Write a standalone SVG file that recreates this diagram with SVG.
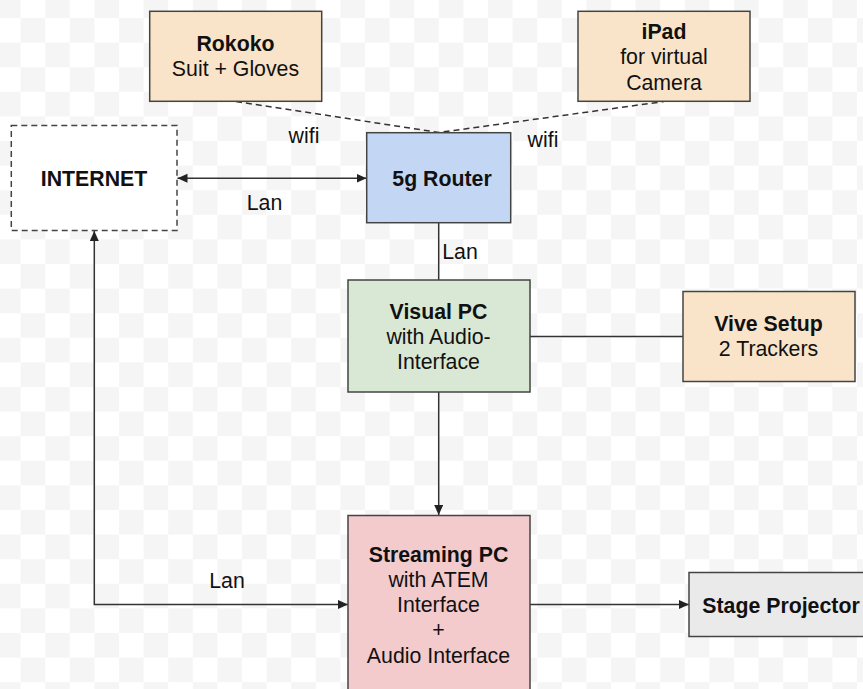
<svg xmlns="http://www.w3.org/2000/svg" width="863" height="689" viewBox="0 0 863 689">
<style>
text{font-family:"Liberation Sans",Arial,sans-serif;font-size:21.3px;fill:#111;text-anchor:middle}
.b{font-weight:bold}
.n{stroke:#444;stroke-width:1.5}
.c{fill:none;stroke:#333;stroke-width:1.5}
.d{stroke-dasharray:6 4}
</style>
<defs>
<pattern id="chk" x="-4" y="-6.6" width="49.2" height="49.2" patternUnits="userSpaceOnUse">
<rect width="49.2" height="49.2" fill="#fff"/>
<rect width="24.6" height="24.6" fill="#f5f5f5"/>
<rect x="24.6" y="24.6" width="24.6" height="24.6" fill="#f5f5f5"/>
</pattern>
<marker id="a" markerUnits="userSpaceOnUse" markerWidth="12" markerHeight="10" refX="10" refY="4.5" orient="auto-start-reverse"><path d="M0 0L10 4.5L0 9Z" fill="#222"/></marker>
</defs>
<rect id="bg" width="863" height="689" fill="url(#chk)"/>
<g id="connectors">
<path class="c d" d="M236 101.500L439 132.500L664 101.500"/>
<path class="c" d="M177.500 178.300H366.500" marker-start="url(#a)" marker-end="url(#a)"/>
<path class="c" d="M438.700 223V280"/>
<path class="c" d="M530 336.500H683"/>
<path class="c" d="M438.700 392V515" marker-end="url(#a)"/>
<path class="c" d="M348 604.500H94.300V231" marker-start="url(#a)" marker-end="url(#a)"/>
<path class="c" d="M530 604.500H689" marker-end="url(#a)"/>
</g>
<g id="rokoko"><rect class="n" x="149.700" y="11.300" width="172" height="90" fill="#f9e4c9"/><text class="b" x="235.500" y="51">Rokoko</text><text x="235.500" y="76">Suit + Gloves</text></g>
<g id="ipad"><rect class="n" x="578" y="11.300" width="172" height="90" fill="#f9e4c9"/><text class="b" x="664" y="39">iPad</text><text x="664" y="64">for virtual</text><text x="664" y="89.500">Camera</text></g>
<g id="internet"><rect class="n d" x="11.300" y="125.500" width="165.700" height="105" fill="#fff"/><text class="b" x="94" y="186">INTERNET</text></g>
<g id="router"><rect class="n" x="366.700" y="132.700" width="144" height="90" fill="#c3d7f5"/><text class="b" x="442" y="186">5g Router</text></g>
<g id="visual"><rect class="n" x="348" y="280" width="182" height="112" fill="#d9e8d4"/><text class="b" x="438.500" y="319">Visual PC</text><text x="438.500" y="344">with Audio-</text><text x="438.500" y="369">Interface</text></g>
<g id="vive"><rect class="n" x="683" y="291.500" width="172" height="90" fill="#f9e4c9"/><text class="b" x="768.500" y="331">Vive Setup</text><text x="768.500" y="356">2 Trackers</text></g>
<g id="streaming"><rect class="n" x="348" y="515.500" width="182" height="180" fill="#f3cbcc"/><text class="b" x="438.500" y="562">Streaming PC</text><text x="438.500" y="587">with ATEM</text><text x="438.500" y="612">Interface</text><text x="438.500" y="637">+</text><text x="438.500" y="663">Audio Interface</text></g>
<g id="projector"><rect class="n" x="689" y="572.500" width="180" height="64" fill="#eaeaea"/><text class="b" x="781" y="612.500">Stage Projector</text></g>
<g id="labels"><text x="304" y="143">wifi</text><text x="543" y="147">wifi</text><text x="264.500" y="209.500">Lan</text><text x="460" y="258.500">Lan</text><text x="227" y="588">Lan</text></g>
</svg>
